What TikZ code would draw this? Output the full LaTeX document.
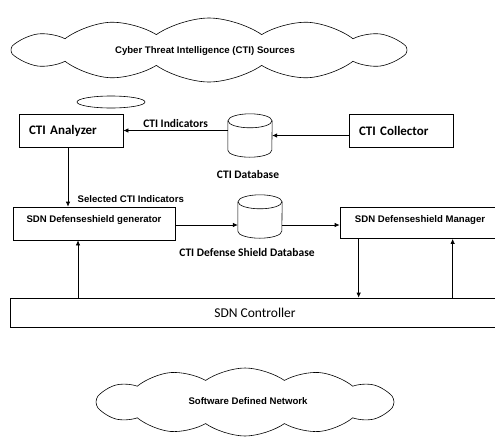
\documentclass[tikz,border=0pt]{standalone}
\usepackage{fontspec}
\setmainfont{Liberation Sans}
\newfontfamily\calfont{Carlito}
\usetikzlibrary{shapes.symbols,shapes.geometric,arrows.meta}

\tikzset{
  box/.style={draw,line width=0.7pt,minimum height=33pt,inner sep=0pt},
  dbase/.style={minimum width=44pt,minimum height=43pt,inner sep=0pt},
  arr/.style={line width=0.7pt,-{Latex[length=5pt,width=4.5pt]}},
  lbl/.style={font=\fontsize{9.6}{11}\selectfont\bfseries},
  clbl/.style={font=\fontsize{11.5}{13}\selectfont\calfont\bfseries},
  blbl/.style={font=\fontsize{13}{15}\selectfont\calfont\bfseries},
  bubble/.style={draw,line width=0.6pt,cloud,cloud puffs=12,cloud puff arc=70,inner sep=0pt}
}
\newcommand{\drumdb}[1]{%
  \draw[line width=0.6pt] ([yshift=-7pt]#1.north) ellipse [x radius=22pt,y radius=7pt];
  \draw[line width=0.6pt] ([yshift=-7pt]#1.north west) -- ([yshift=7pt]#1.south west)
    arc[start angle=180,end angle=360,x radius=22pt,y radius=7pt] -- ([yshift=-7pt]#1.north east);}

\begin{document}
\begin{tikzpicture}[x=1pt,y=-1pt]
    \useasboundingbox (0,0) rectangle (495,437);

    \node[bubble,aspect=6,minimum width=396pt,minimum height=64pt] (src) at (209,50) {};
    \node[lbl] (srctext) at (205,51) {Cyber Threat Intelligence (CTI) Sources};
    \node[draw,line width=0.6pt,ellipse,minimum width=68pt,minimum height=12pt,inner sep=0pt] (puff) at (111,102) {};

    \node[box,minimum width=104pt,text width=84pt,align=left,blbl] (ana) at (71,130.5) {CTI Analyzer};
    \node[dbase] (ctidb) at (250,135.5) {};
    \drumdb{ctidb}
    \node[clbl] (ctidbtext) at (248,175) {CTI Database};
    \node[box,minimum width=104pt,text width=84pt,align=left,blbl] (col) at (401,130.5) {CTI Collector};

    \node[box,minimum width=162pt,text depth=8pt,lbl] (gen) at (94,223.5) {SDN Defenseshield generator};
    \node[dbase] (dsdb) at (260,216.5) {};
    \drumdb{dsdb}
    \node[clbl] (dsdbtext) at (247,253) {CTI Defense Shield Database};
    \node[box,minimum width=160pt,minimum height=31pt,text depth=8pt,lbl] (mgr) at (420,223) {SDN Defenseshield Manager};

    \node[box,minimum width=490pt,minimum height=29pt,font=\fontsize{13.5}{15}\selectfont\calfont] (ctrl) at (255,312.5) {SDN Controller};

    \node[bubble,aspect=4.4,minimum width=298pt,minimum height=68pt] (sdn) at (245,402) {};
    \node[lbl] (sdntext) at (248,401) {Software Defined Network};

    % CTI flow
    \draw[arr] (ctidb.west |- ana.east) -- node[above,clbl,yshift=-1pt] {CTI Indicators} (ana.east);
    \draw[arr] (col.west |- ctidb.east) -- (ctidb.east);
    \draw[arr] ([xshift=-3pt]ana.south) -- node[pos=0.88,right,lbl,xshift=6pt] {Selected CTI Indicators} ([xshift=-3pt]ana.south |- gen.north);

    % defense shields
    \draw[arr] ([yshift=-1.5pt]gen.east) -- ([yshift=-1.5pt]gen.east -| dsdb.west);
    \draw[arr] ([yshift=-1.5pt]gen.east -| dsdb.east) -- ([yshift=-1.5pt]gen.east -| mgr.west);

    % controller
    \draw[arr] ([xshift=-16pt]gen.south |- ctrl.north) -- ([xshift=-16pt]gen.south);
    \draw[arr] ([xshift=19pt]mgr.south west) -- ([xshift=19pt]mgr.south west |- ctrl.north);
    \draw[arr] ([xshift=113pt]mgr.south west |- ctrl.north) -- ([xshift=113pt]mgr.south west);
\end{tikzpicture}
\end{document}
